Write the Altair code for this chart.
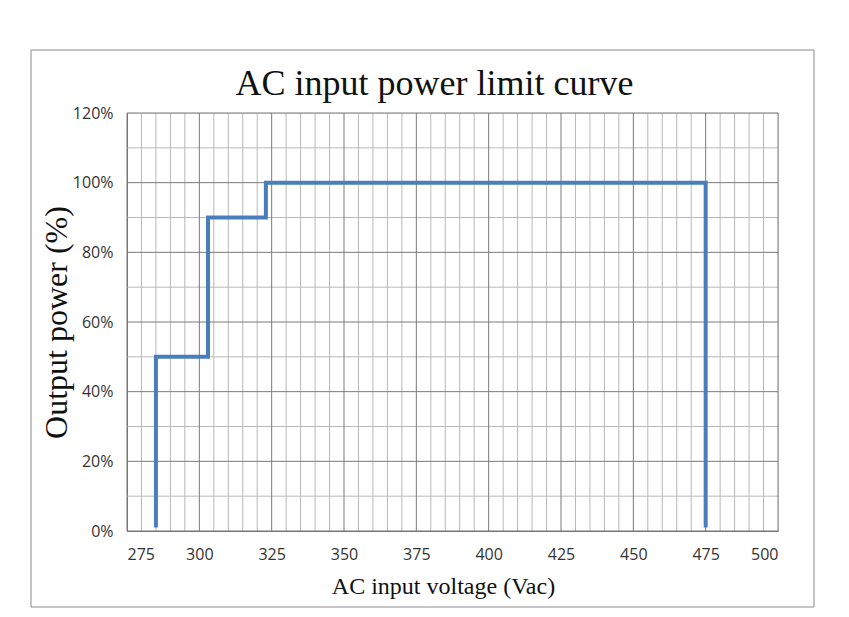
import altair as alt
import pandas as pd

# Curve data
volt = [285, 285, 303, 303, 323, 323, 475, 475]
power = [1, 50, 50, 90, 90, 100, 100, 1]

# Axis / grid values
x_ticks = [275, 300, 325, 350, 375, 400, 425, 450, 475, 500]
x_minor = list(range(275, 501, 5))
y_ticks = [0, 20, 40, 60, 80, 100, 120]
y_minor = list(range(0, 121, 10))

curve = pd.DataFrame({"v": volt, "p": power, "o": list(range(len(volt)))})
xmin = pd.DataFrame({"v": [v for v in x_minor if v not in x_ticks]})
xmaj = pd.DataFrame({"v": x_ticks})
ymin = pd.DataFrame({"p": [p for p in y_minor if p not in y_ticks]})
ymaj = pd.DataFrame({"p": y_ticks})

W, H = 651, 418
xs = alt.Scale(domain=[275, 500], nice=False, zero=False)
ys = alt.Scale(domain=[0, 120], nice=False)

x_axis = alt.Axis(values=x_ticks, title="AC input voltage (Vac)", grid=False,
                  ticks=False, domain=True, domainColor="#6e6e6e",
                  labelFont="Open Sans", labelFontSize=16, labelColor="#333333",
                  labelPadding=15,
                  titleFont="Liberation Serif", titleFontSize=24, titleFontWeight="normal",
                  titleColor="#111111", titleX=316, titleY=62,
                  titleBaseline="alphabetic", titleAnchor="middle", titleAlign="center")
y_axis = alt.Axis(values=y_ticks, labelExpr="datum.value + '%'", title="Output power (%)",
                  grid=False, ticks=False, domain=True, domainColor="#6e6e6e",
                  labelFont="Open Sans", labelFontSize=16, labelColor="#333333",
                  labelPadding=14,
                  titleFont="Liberation Serif", titleFontSize=32, titleFontWeight="normal",
                  titleColor="#111111", titleX=-61, titleY=209, titleAngle=270,
                  titleBaseline="alphabetic", titleAlign="center")

frame = alt.Chart(pd.DataFrame({"a": [0]})).mark_rect(
    filled=False, stroke="#8c8c8c", strokeWidth=1, clip=False
).encode(x=alt.value(-96), x2=alt.value(687), y=alt.value(-63), y2=alt.value(494))

vminor = alt.Chart(xmin).mark_rule(color="#b8b8b8", strokeWidth=1).encode(
    x=alt.X("v:Q", scale=xs, axis=x_axis))
vmajor = alt.Chart(xmaj).mark_rule(color="#7a7a7a", strokeWidth=1).encode(
    x=alt.X("v:Q", scale=xs, axis=x_axis))
hminor = alt.Chart(ymin).mark_rule(color="#b8b8b8", strokeWidth=1).encode(
    y=alt.Y("p:Q", scale=ys, axis=y_axis))
hmajor = alt.Chart(ymaj).mark_rule(color="#7a7a7a", strokeWidth=1).encode(
    y=alt.Y("p:Q", scale=ys, axis=y_axis))

line = alt.Chart(curve).mark_line(color="#4a7ebb", strokeWidth=4, strokeJoin="miter").encode(
    x=alt.X("v:Q", scale=xs, axis=x_axis),
    y=alt.Y("p:Q", scale=ys, axis=y_axis),
    order="o:Q",
)

chart = alt.layer(frame, vminor, hminor, vmajor, hmajor, line).properties(
    width=W, height=H,
    title=alt.TitleParams("AC input power limit curve", font="Liberation Serif", fontSize=36,
                          fontWeight="normal", color="#111111", anchor="middle", dx=-18,
                          offset=-53),
    autosize=alt.AutoSizeParams(type="none"),
    padding={"left": 119, "top": 105, "right": 45, "bottom": 80},
).configure_view(stroke="#6e6e6e", strokeWidth=1).configure(background="white")

chart.save("out.html", embed_options={"renderer": "svg", "actions": False})
